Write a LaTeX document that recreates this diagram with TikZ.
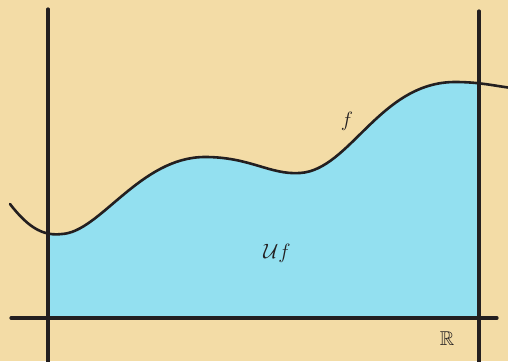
\documentclass[tikz,border=0pt]{standalone}
\usepackage{amsmath,amssymb}
\usepackage{tikz}
\usetikzlibrary{positioning,calc,backgrounds}
\definecolor{sand}{HTML}{F3DCA6}
\definecolor{sky}{HTML}{93E0F0}
\definecolor{ink}{HTML}{231F20}

\begin{document}
\begin{tikzpicture}[x=1pt,y=-1pt,
    axis/.style={draw=ink, line width=3.2pt, line cap=round},
    graph/.style={draw=ink, line width=2.6pt, line cap=round},
    lab/.style={text=ink, font=\fontsize{20}{24}\selectfont}]
\fill[sand] (0,0) rectangle (508,361);
\useasboundingbox (0,0) rectangle (508,361);
% the area under the graph
\begin{scope}
\clip (48,0) rectangle (479,318);
\fill[sky] (10,204) .. controls (30,230) and (45,236) .. (62,234)
    .. controls (100,232) and (140,157) .. (205,157)
    .. controls (250,157) and (270,175) .. (300,173)
    .. controls (350,170) and (380,82) .. (455,82)
    .. controls (480,82) and (495,86) .. (508,88)
    -- (508,361) -- (10,361) -- cycle;
\end{scope}
% axes
\draw[axis] (48,9) -- (48,365);
\draw[axis] (479,11) -- (479,365);
\draw[axis] (11,318) -- (497,318);
% the graph of f
\draw[graph] (10,204) .. controls (30,230) and (45,236) .. (62,234)
    .. controls (100,232) and (140,157) .. (205,157)
    .. controls (250,157) and (270,175) .. (300,173)
    .. controls (350,170) and (380,82) .. (455,82)
    .. controls (480,82) and (495,86) .. (512,88);
\node[lab] (f) at (347,121) {$f$};
\node[lab] (uf) at (277,253) {$\mathcal{U}f$};
\node[lab] (reals) at (447,339) {$\mathbb{R}$};
\end{tikzpicture}
\end{document}
